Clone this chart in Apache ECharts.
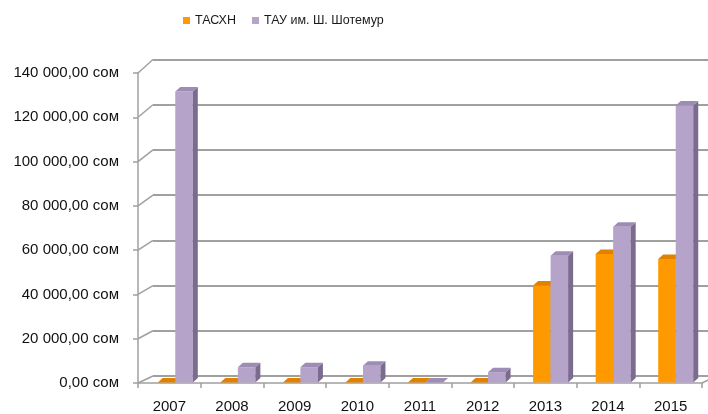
<!DOCTYPE html>
<html>
<head>
<meta charset="utf-8">
<script src="https://cdn.jsdelivr.net/npm/echarts@6/dist/echarts.min.js"></script>
<style>
  html, body { margin: 0; padding: 0; background: #ffffff; }
  #chart { width: 708px; height: 414px; }
</style>
</head>
<body>
<div id="chart"></div>
<script>
// ---- data ----
const years = ['2007', '2008', '2009', '2010', '2011', '2012', '2013', '2014', '2015'];
const seriesNames = ['ТАСХН', 'ТАУ им. Ш. Шотемур'];
const tasxn = [0, 0, 0, 0, 0, 0, 43200, 57300, 55100];
const tau = [129700, 6800, 6800, 7500, 0, 4600, 56500, 69400, 123500];
const yTicks = [0, 20000, 40000, 60000, 80000, 100000, 120000, 140000];

// ---- layout / style ----
const FRONT = { left: 138, top: 73, width: 564, height: 314 };
const BAR = { left: 144, top: 68.5, width: 563, height: 314 };
const BACK = { left: 153, top: 59.5, width: 560, height: 316.5 };
const GRID_COLOR = '#a0a0a0';
const DX = 5, DY = 4.5;
const COLORS = [
  { front: '#FF9900', top: '#E08100', side: '#B96A00' },
  { front: '#B5A3CA', top: '#9D8CB3', side: '#7B6B8E' }
];
const LABEL_FONT = 'Liberation Sans, Arial, sans-serif';

function fmt(v) {
  const s = String(Math.round(v));
  const parts = [];
  for (let i = s.length; i > 0; i -= 3) parts.unshift(s.slice(Math.max(0, i - 3), i));
  return parts.join(' ') + ',00 сом';
}

function makeRender(idx) {
  const c = COLORS[idx];
  return function (params, api) {
    const cat = api.value(0);
    const v = api.value(1);
    const base = api.coord([cat, 0]);
    const topP = api.coord([cat, v]);
    const bw = api.size([1, 0])[0] * 0.28;
    const x0 = idx === 0 ? base[0] - bw : base[0];
    const x1 = x0 + bw;
    const yb = base[1];
    const yt = topP[1];
    const children = [];
    if (yb - yt > 0.5) {
      children.push({ type: 'rect', shape: { x: x0, y: yt, width: bw, height: yb - yt }, style: { fill: c.front } });
      children.push({ type: 'polygon', shape: { points: [[x1, yb], [x1 + DX, yb - DY], [x1 + DX, yt - DY], [x1, yt]] }, style: { fill: c.side } });
    }
    children.push({ type: 'polygon', shape: { points: [[x0, yt], [x0 + DX, yt - DY], [x1 + DX, yt - DY], [x1, yt]] }, style: { fill: c.top } });
    return { type: 'group', children: children };
  };
}

const chart = echarts.init(document.getElementById('chart'), null, { renderer: 'canvas' });

const option = {
  animation: false,
  backgroundColor: '#ffffff',
  legend: {
    left: 178, top: 9,
    itemWidth: 7, itemHeight: 7, itemGap: 16,
    icon: 'rect',
    textStyle: { fontFamily: 'Liberation Sans, Arial', fontSize: 12.5, color: '#1a1a1a' },
    data: seriesNames
  },
  grid: [
    { left: FRONT.left, top: FRONT.top, width: FRONT.width, height: FRONT.height },
    { left: BAR.left, top: BAR.top, width: BAR.width, height: BAR.height },
    { left: BACK.left, top: BACK.top, width: BACK.width, height: BACK.height }
  ],
  xAxis: [
    {
      gridIndex: 0, type: 'category', data: years, boundaryGap: true,
      axisLine: { show: true, lineStyle: { color: GRID_COLOR, width: 1.5 } },
      axisTick: { show: true, length: 5, lineStyle: { color: GRID_COLOR, width: 1.5 } },
      axisLabel: { color: '#111', fontFamily: LABEL_FONT, fontSize: 15, margin: 16 }
    },
    { gridIndex: 1, type: 'category', data: years, show: false },
    { gridIndex: 2, type: 'category', data: years, show: false }
  ],
  yAxis: [
    {
      gridIndex: 0, type: 'value', min: 0, max: 140000, interval: 20000,
      axisLine: { show: true, lineStyle: { color: GRID_COLOR, width: 1.5 } },
      axisTick: { show: true, length: 5, lineStyle: { color: GRID_COLOR, width: 1.5 } },
      splitLine: { show: false },
      axisLabel: { color: '#111', fontFamily: LABEL_FONT, fontSize: 15, margin: 19, formatter: fmt }
    },
    { gridIndex: 1, type: 'value', min: 0, max: 140000, interval: 20000, show: false, splitLine: { show: false } },
    {
      gridIndex: 2, type: 'value', min: 0, max: 140000, interval: 20000,
      axisLine: { show: false }, axisTick: { show: false }, axisLabel: { show: false },
      splitLine: { show: true, lineStyle: { color: GRID_COLOR, width: 2 } }
    }
  ],
  series: [
    {
      name: seriesNames[0], type: 'custom', xAxisIndex: 1, yAxisIndex: 1,
      itemStyle: { color: COLORS[0].front },
      renderItem: makeRender(0),
      encode: { x: 0, y: 1 },
      data: years.map((y, i) => [i, tasxn[i]]),
      z: 5
    },
    {
      name: seriesNames[1], type: 'custom', xAxisIndex: 1, yAxisIndex: 1,
      itemStyle: { color: COLORS[1].front },
      renderItem: makeRender(1),
      encode: { x: 0, y: 1 },
      data: years.map((y, i) => [i, tau[i]]),
      z: 6
    }
  ]
};

chart.setOption(option);

// left wall connectors between front axis ticks and back-wall gridlines
const connectors = yTicks.map(v => {
  const yF = chart.convertToPixel({ yAxisIndex: 0 }, v);
  const yB = chart.convertToPixel({ yAxisIndex: 2 }, v);
  return {
    type: 'polyline',
    shape: { points: [[FRONT.left, yF], [BACK.left, yB]] },
    style: { stroke: GRID_COLOR, lineWidth: 1.5, fill: null },
    z: 1
  };
});
const yF0 = chart.convertToPixel({ yAxisIndex: 0 }, 0);
const yB0 = chart.convertToPixel({ yAxisIndex: 2 }, 0);
connectors.push({
  type: 'polyline',
  shape: { points: [[FRONT.left + FRONT.width, yF0], [FRONT.left + FRONT.width + (BACK.left - FRONT.left), yB0]] },
  style: { stroke: GRID_COLOR, lineWidth: 1.5, fill: null },
  z: 1
});
chart.setOption({ graphic: connectors });
</script>
</body>
</html>
